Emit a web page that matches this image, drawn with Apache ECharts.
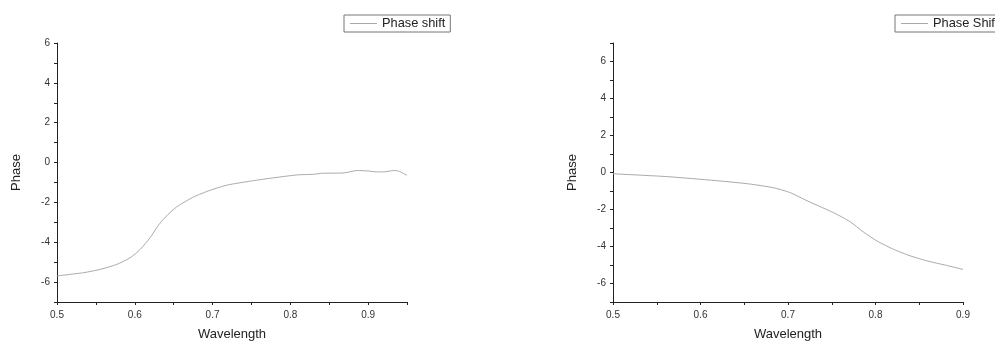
<!DOCTYPE html>
<html>
<head>
<meta charset="utf-8">
<script src="https://cdn.jsdelivr.net/npm/echarts@6/dist/echarts.min.js"></script>
<style>html,body{margin:0;padding:0;background:#fff}#c{width:995px;height:341px}</style>
</head>
<body>
<div id="c"></div>
<script>
// Left panel: Phase shift vs wavelength
const leftWavelength = [0.500,0.534,0.556,0.577,0.594,0.607,0.620,0.629,0.639,0.654,0.676,0.697,0.719,0.749,0.774,0.809,0.830,0.841,0.869,0.886,0.899,0.912,0.920,0.933,0.939,0.950];
const leftPhase = [-5.69,-5.53,-5.36,-5.11,-4.78,-4.36,-3.76,-3.22,-2.75,-2.22,-1.72,-1.39,-1.13,-0.93,-0.79,-0.62,-0.59,-0.54,-0.52,-0.40,-0.42,-0.47,-0.47,-0.40,-0.43,-0.64];
// Right panel: Phase Shift vs wavelength
const rightWavelength = [0.500,0.561,0.618,0.656,0.683,0.702,0.725,0.752,0.771,0.786,0.802,0.821,0.840,0.859,0.882,0.900];
const rightPhase = [-0.07,-0.22,-0.44,-0.62,-0.82,-1.08,-1.60,-2.17,-2.66,-3.21,-3.71,-4.16,-4.51,-4.78,-5.03,-5.24];
const leftName = 'Phase shift';
const rightName = 'Phase Shift';
const xTitle = 'Wavelength';
const yTitle = 'Phase';

const FONT = 'Liberation Sans, Arial, sans-serif';
const pair = (xs, ys) => xs.map((x, i) => [x, ys[i]]);

function xAxis(gi, max) {
  return {
    type: 'value', gridIndex: gi, min: 0.5, max: max, interval: 0.05,
    name: xTitle, nameLocation: 'middle', nameGap: 26,
    nameTextStyle: {fontFamily: FONT, fontSize: 13, color: '#222'},
    axisLine: {show: true, onZero: false, lineStyle: {color: '#222', width: 1}},
    axisTick: {show: true, inside: false, length: 3, lineStyle: {color: '#222'}},
    axisLabel: {fontFamily: FONT, fontSize: 10, color: '#333', margin: 8,
      formatter: v => (Math.round(v * 100) % 10 === 0 ? v.toFixed(1) : '')},
    splitLine: {show: false}
  };
}
function yAxis(gi, max) {
  return {
    type: 'value', gridIndex: gi, min: -7, max: max, interval: 1,
    name: yTitle, nameLocation: 'middle', nameGap: 34,
    nameTextStyle: {fontFamily: FONT, fontSize: 13, color: '#222'},
    axisLine: {show: true, onZero: false, lineStyle: {color: '#222', width: 1}},
    axisTick: {show: true, inside: false, length: 3, lineStyle: {color: '#222'}},
    axisLabel: {fontFamily: FONT, fontSize: 10, color: '#333', margin: 7,
      formatter: v => (Math.round(v) % 2 === 0 ? String(Math.round(v)) : '')},
    splitLine: {show: false}
  };
}
function legend(name, left) {
  return {
    data: [name], left: left, top: 15, orient: 'horizontal',
    borderColor: '#777', borderWidth: 1, padding: [2, 5, 2, 6],
    itemWidth: 27, itemHeight: 1, itemGap: 0,
    textStyle: {fontFamily: FONT, fontSize: 12.8, color: '#222', padding: [0, 0, 0, 0]},
    icon: 'rect'
  };
}

const chart = echarts.init(document.getElementById('c'), null, {renderer: 'canvas'});
chart.setOption({
  animation: false,
  backgroundColor: '#fff',
  legend: [legend(leftName, 344), legend(rightName, 895)],
  grid: [
    {left: 57, right: 588, top: 43, bottom: 39, containLabel: false, outerBoundsMode: 'none'},
    {left: 613, right: 32, top: 43, bottom: 39, containLabel: false, outerBoundsMode: 'none'}
  ],
  xAxis: [xAxis(0, 0.95), xAxis(1, 0.9)],
  yAxis: [yAxis(0, 6), yAxis(1, 7)],
  series: [
    {type: 'line', name: leftName, xAxisIndex: 0, yAxisIndex: 0, data: pair(leftWavelength, leftPhase),
      symbol: 'none', smooth: 0.2, lineStyle: {color: '#aaa', width: 1}, itemStyle: {color: '#aaa'}},
    {type: 'line', name: rightName, xAxisIndex: 1, yAxisIndex: 1, data: pair(rightWavelength, rightPhase),
      symbol: 'none', smooth: 0.2, lineStyle: {color: '#aaa', width: 1}, itemStyle: {color: '#aaa'}}
  ]
});
</script>
</body>
</html>
